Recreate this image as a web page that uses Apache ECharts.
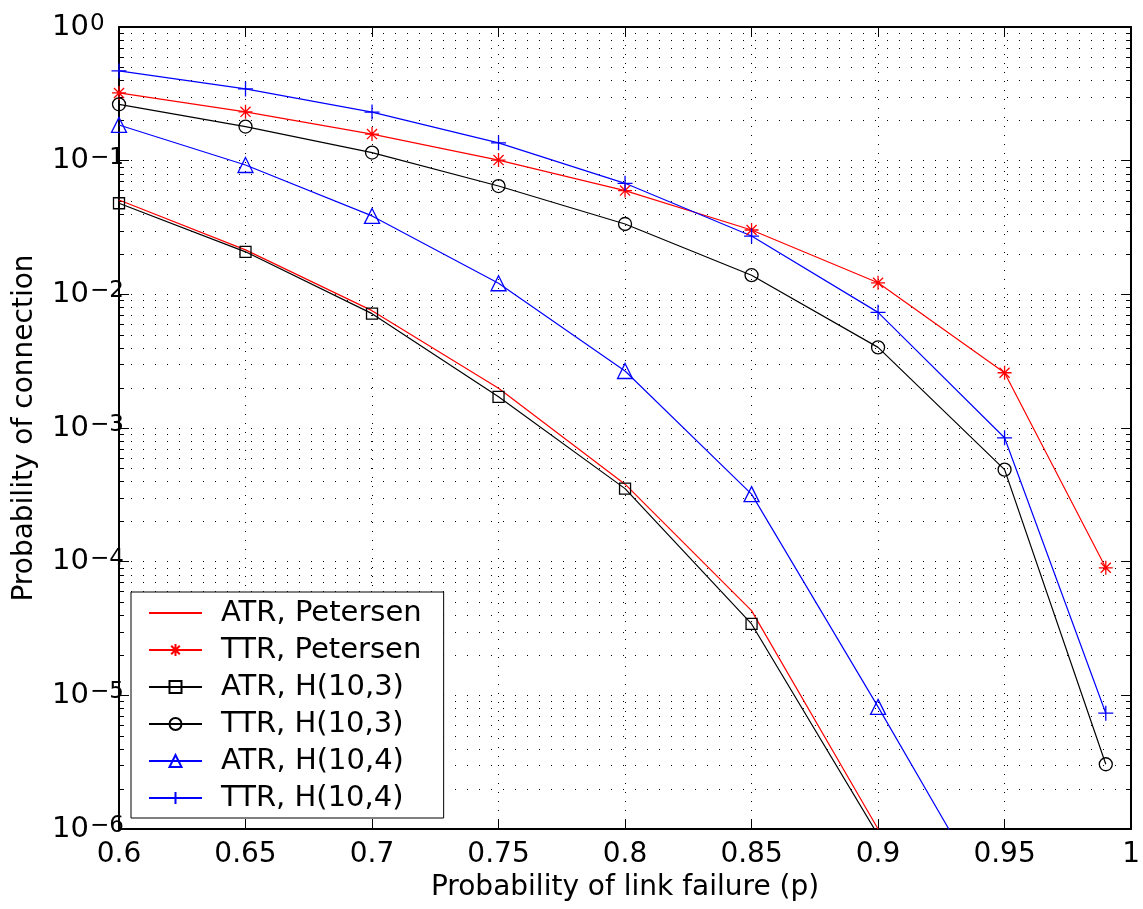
<!DOCTYPE html>
<html><head><meta charset="utf-8">
<script src="https://cdn.jsdelivr.net/npm/echarts@6/dist/echarts.min.js"></script>
<style>html,body{margin:0;padding:0;background:#fff}#c{width:1143px;height:909px}</style>
</head><body><div id="c"></div>
<script>
// x values (probability of link failure)
const pValues = [0.6, 0.65, 0.7, 0.75, 0.8, 0.85, 0.9, 0.95, 0.99];
// series values (probability of connection)
const atrPetersen = [0.0508, 0.0215, 0.00755, 0.00198, 3.8e-4, 4.3e-5, 1.0e-6];
const ttrPetersen = [0.321, 0.232, 0.158, 0.101, 0.0597, 0.0303, 0.0122, 0.00259, 9.0e-5];
const atrH103 = [0.048, 0.0208, 0.00717, 0.00171, 3.52e-4, 3.42e-5, 9.0e-7];
const ttrH103 = [0.264, 0.18, 0.115, 0.0646, 0.0336, 0.0139, 0.00401, 4.88e-4, 3.05e-6];
const atrH104 = [0.185, 0.0928, 0.0386, 0.0121, 0.00267, 3.2e-4, 8.2e-6, 1.9e-7];
const ttrH104 = [0.469, 0.344, 0.231, 0.136, 0.0677, 0.0273, 0.00733, 8.45e-4, 7.35e-6];
const seriesNames = ['ATR, Petersen', 'TTR, Petersen', 'ATR, H(10,3)', 'TTR, H(10,3)', 'ATR, H(10,4)', 'TTR, H(10,4)'];
// axis ranges / ticks
const X_MIN = 0.6, X_MAX = 1, X_STEP = 0.05;
const Y_MIN = 1e-6, Y_MAX = 1;
const decadeExponents = [-6, -5, -4, -3, -2, -1];
const minorMantissas = [2, 3, 4, 5, 6, 7, 8, 9];

const FONT = 'DejaVu Sans';
const minorValues = [];
decadeExponents.forEach(e => minorMantissas.forEach(m => minorValues.push(m * Math.pow(10, e))));

const PLUS = 'path://M0,-1V1M-1,0H1';
const STAR = 'path://M0,-1V1M-1,0H1M-0.72,-0.72L0.72,0.72M0.72,-0.72L-0.72,0.72';

function mk(name, vals, color, symbol, size) {
  const none = symbol === 'none';
  return {
    name, type: 'line',
    data: vals.map((v, i) => [pValues[i], v]),
    symbol, symbolSize: size, showSymbol: !none,
    lineStyle: { color, width: 1.2 },
    itemStyle: { color: 'rgba(0,0,0,0)', borderColor: color, borderWidth: none ? 0 : 1.3 },
    emphasis: { disabled: true },
    clip: true, z: 3, silent: true
  };
}

const chart = echarts.init(document.getElementById('c'), null, { renderer: 'canvas' });
const dottedV = { color: '#000', width: 1, type: [1, 8] };
const dottedH = { color: '#000', width: 1, type: [1, 11] };
chart.setOption({
  animation: false,
  backgroundColor: '#fff',
  textStyle: { fontFamily: FONT },
  grid: { left: 119, right: 8, top: 27, bottom: 80 },
  legend: {
    orient: 'vertical', left: 131, top: 592,
    data: seriesNames,
    itemWidth: 53, itemHeight: 15, itemGap: 7,
    padding: [6, 22, 5, 17],
    backgroundColor: '#fff', borderColor: '#000', borderWidth: 1, borderRadius: 0,
    textStyle: { fontSize: 29, fontFamily: FONT, color: '#000', lineHeight: 30, padding: [0, 0, 0, 14] },
    selectedMode: false
  },
  xAxis: [{
    type: 'value', min: X_MIN, max: X_MAX, interval: X_STEP, position: 'bottom',
    name: 'Probability of link failure (p)', nameLocation: 'middle', nameGap: 43,
    nameTextStyle: { fontSize: 28, fontFamily: FONT, color: '#000' },
    axisLine: { show: true, onZero: false, lineStyle: { color: '#000', width: 2 } },
    axisTick: { show: true, inside: true, length: 10, lineStyle: { color: '#000', width: 1 } },
    axisLabel: { fontSize: 28, fontFamily: FONT, color: '#000', margin: 12 },
    splitLine: { show: true, lineStyle: dottedV }
  }, {
    type: 'value', min: X_MIN, max: X_MAX, interval: X_STEP, position: 'top',
    axisLine: { show: true, onZero: false, lineStyle: { color: '#000', width: 2 } },
    axisTick: { show: true, inside: true, length: 10, lineStyle: { color: '#000', width: 1 } },
    axisLabel: { show: false }, splitLine: { show: false }
  }],
  yAxis: [{
    type: 'log', logBase: 10, min: Y_MIN, max: Y_MAX, interval: 1, position: 'left',
    name: 'Probability of connection', nameLocation: 'middle', nameGap: 80,
    nameTextStyle: { fontSize: 28, fontFamily: FONT, color: '#000' },
    axisLine: { show: true, onZero: false, lineStyle: { color: '#000', width: 2 } },
    axisTick: { show: true, inside: true, length: 10, lineStyle: { color: '#000', width: 1 } },
    axisLabel: {
      align: 'left', margin: 67,
      formatter: v => '{b|10}{e|' + String(Math.round(Math.log10(v))).replace('-', '\u2212') + '}',
      rich: {
        b: { fontSize: 29, fontFamily: FONT, color: '#000', lineHeight: 29, verticalAlign: 'middle' },
        e: { fontSize: 23, fontFamily: FONT, color: '#000', lineHeight: 23, verticalAlign: 'top', padding: [0, 0, 25, 1] }
      }
    },
    splitLine: { show: true, lineStyle: dottedH }
  }, {
    type: 'log', logBase: 10, min: Y_MIN, max: Y_MAX, interval: 1, position: 'right',
    axisLine: { show: true, onZero: false, lineStyle: { color: '#000', width: 2 } },
    axisTick: { show: true, inside: true, length: 10, lineStyle: { color: '#000', width: 1 } },
    axisLabel: { show: false }, splitLine: { show: false }
  }],
  series: [
    {
      name: 'minor', type: 'custom', silent: true, z: 1, clip: false,
      data: minorValues.map(v => [X_MIN, v]),
      renderItem: function (params, api) {
        const cs = params.coordSys;
        const y = Math.round(api.coord([api.value(0), api.value(1)])[1]) + 0.5;
        const x0 = cs.x, x1 = cs.x + cs.width;
        return {
          type: 'group', children: [
            { type: 'line', shape: { x1: x0, y1: y, x2: x1, y2: y }, style: { stroke: '#000', lineWidth: 1, lineDash: [1, 11] } },
            { type: 'line', shape: { x1: x0, y1: y, x2: x0 + 5, y2: y }, style: { stroke: '#000', lineWidth: 1 } },
            { type: 'line', shape: { x1: x1 - 5, y1: y, x2: x1, y2: y }, style: { stroke: '#000', lineWidth: 1 } }
          ]
        };
      }
    },
    mk(seriesNames[0], atrPetersen, '#ff0000', 'none', 0),
    mk(seriesNames[1], ttrPetersen, '#ff0000', STAR, 14),
    mk(seriesNames[2], atrH103, '#000000', 'rect', 11),
    mk(seriesNames[3], ttrH103, '#000000', 'circle', 13),
    mk(seriesNames[4], atrH104, '#0000ff', 'triangle', 15),
    mk(seriesNames[5], ttrH104, '#0000ff', PLUS, 15)
  ]
});
</script></body></html>
